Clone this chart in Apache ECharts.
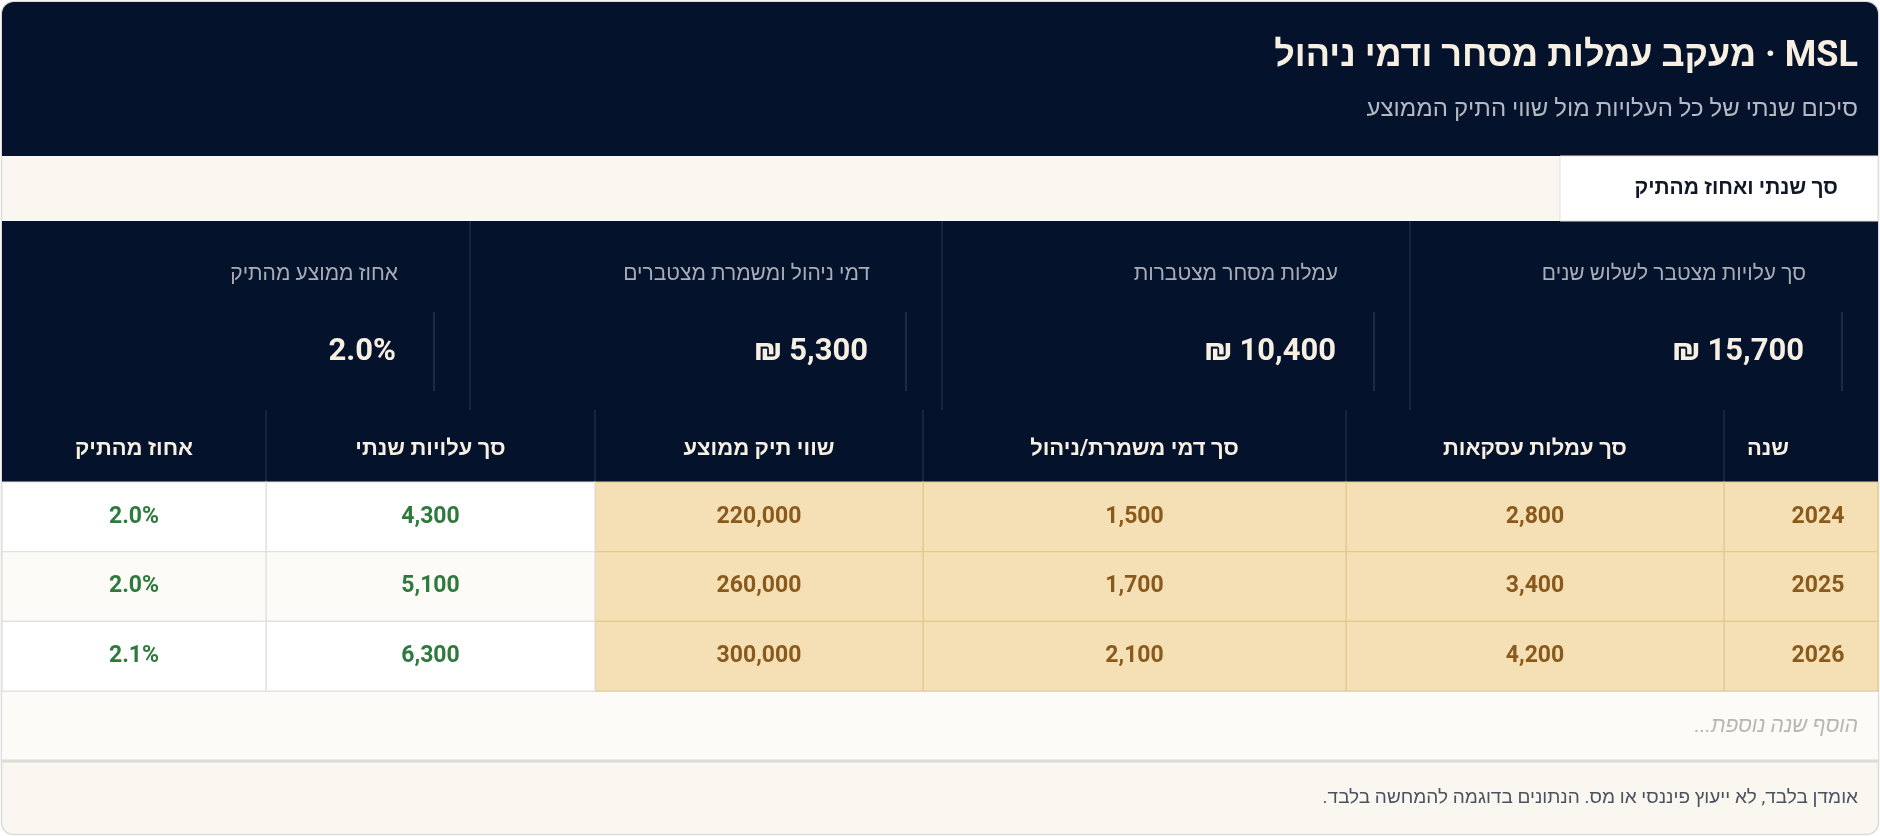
<!DOCTYPE html>
<html dir="rtl"><head><meta charset="utf-8">
<script src="https://cdn.jsdelivr.net/npm/echarts@6/dist/echarts.min.js"></script>
<style>html,body{margin:0;padding:0;background:#fff}#c{width:1880px;height:836px}</style>
</head><body><div id="c"></div>
<script>
const title = 'MSL · מעקב עמלות מסחר ודמי ניהול';
const subtitle = 'סיכום שנתי של כל העלויות מול שווי התיק הממוצע';
const tabLabel = 'סך שנתי ואחוז מהתיק';
const kpiLabels = ['סך עלויות מצטבר לשלוש שנים','עמלות מסחר מצטברות','דמי ניהול ומשמרת מצטברים','אחוז ממוצע מהתיק'];
const kpiValues = ['15,700 ₪','10,400 ₪','5,300 ₪','2.0%'];
const columns = ['שנה','סך עמלות עסקאות','סך דמי משמרת/ניהול','שווי תיק ממוצע','סך עלויות שנתי','אחוז מהתיק'];
const years = ['2024','2025','2026'];
const tradeFees = [2800,3400,4200];
const custodyFees = [1500,1700,2100];
const avgPortfolio = [220000,260000,300000];
const annualCost = [4300,5100,6300];
const pctOfPortfolio = [2.0,2.0,2.1];
const placeholder = 'הוסף שנה נוספת...';
const footer = 'אומדן בלבד, לא ייעוץ פיננסי או מס. הנתונים בדוגמה להמחשה בלבד.';

// layout (column edges, right to left)
const colEdges = [1878,1724,1346,923,595,266,2];
const F = "Roboto, 'Liberation Sans', 'DejaVu Sans', sans-serif";
const fmt = v => v.toLocaleString('en-US');
const cells = [];
years.forEach((y,r)=>{
  const vals=[y,fmt(tradeFees[r]),fmt(custodyFees[r]),fmt(avgPortfolio[r]),fmt(annualCost[r]),pctOfPortfolio[r].toFixed(1)+'%'];
  vals.forEach((t,c)=>cells.push([(colEdges[c]+colEdges[c+1])/2, r, c, t]));
});

const g=[];
g.push({type:'rect',shape:{x:1.5,y:1.5,width:1877,height:833,r:12},style:{fill:'#faf7f0',stroke:'#dcdcdc',lineWidth:1.5},z:0});
g.push({type:'rect',shape:{x:2,y:2,width:1876,height:154,r:[12,12,0,0]},style:{fill:'#04132b'},z:1});
g.push({type:'text',x:1858,y:57,style:{text:title,fill:'#f7efe1',font:'bold 36px '+F,align:'right',verticalAlign:'middle'},z:5});
g.push({type:'text',x:1858,y:110,style:{text:subtitle,fill:'#b4b8c4',font:'24px '+F,align:'right',verticalAlign:'middle'},z:5});
g.push({type:'rect',shape:{x:1560,y:156,width:318,height:65},style:{fill:'#ffffff',stroke:'#e4e1da',lineWidth:1},z:2});
g.push({type:'text',x:1838,y:189,style:{text:tabLabel,fill:'#101828',font:'bold 21px '+F,align:'right',verticalAlign:'middle'},z:5});
g.push({type:'rect',shape:{x:2,y:221,width:1876,height:262},style:{fill:'#04132b'},z:1});
const kpiRight=[1878,1410,942,470];
[1410,942,470].forEach(x=>g.push({type:'line',shape:{x1:x,y1:221,x2:x,y2:410},style:{stroke:'#1f2c45',lineWidth:1.5},z:3}));
kpiLabels.forEach((l,i)=>{
  const r=kpiRight[i];
  g.push({type:'text',x:r-72,y:275,style:{text:l,fill:'#a9adb8',font:'21px '+F,align:'right',verticalAlign:'middle'},z:5});
  g.push({type:'text',x:r-74,y:352,style:{text:kpiValues[i],fill:'#f7efe1',font:'bold 31px '+F,align:'right',verticalAlign:'middle'},z:5});
  g.push({type:'line',shape:{x1:r-36,y1:312,x2:r-36,y2:391},style:{stroke:'#26334c',lineWidth:1.5},z:3});
});
columns.forEach((c,i)=>{
  if(i<columns.length-1) g.push({type:'line',shape:{x1:colEdges[i+1],y1:410,x2:colEdges[i+1],y2:482},style:{stroke:'#1f2c45',lineWidth:1.5},z:3});
  const cx = i===0 ? colEdges[0]-110 : (colEdges[i]+colEdges[i+1])/2;
  g.push({type:'text',x:cx,y:449,style:{text:c,fill:'#f7efe1',font:'bold 22px '+F,align:'center',verticalAlign:'middle'},z:5});
});
g.push({type:'rect',shape:{x:2,y:691,width:1876,height:69},style:{fill:'#fcfbf7'},z:1});
g.push({type:'line',shape:{x1:2,y1:691,x2:1878,y2:691},style:{stroke:'#e2e0dc',lineWidth:1.5},z:3});
g.push({type:'text',x:1858,y:727,style:{text:placeholder,fill:'#b9b6ad',font:'italic 21px '+F,align:'right',verticalAlign:'middle'},z:5});
g.push({type:'line',shape:{x1:2,y1:761,x2:1878,y2:761},style:{stroke:'#dedcd8',lineWidth:3},z:3});
g.push({type:'text',x:1858,y:798,style:{text:footer,fill:'#4b5260',font:'19px '+F,align:'right',verticalAlign:'middle'},z:5});

const chart=echarts.init(document.getElementById('c'));
chart.setOption({
  animation:false,
  grid:{left:2,width:1876,top:482,height:209},
  xAxis:{type:'value',min:2,max:1878,show:false},
  yAxis:{type:'category',data:years,show:false,inverse:true},
  graphic:g,
  series:[{type:'custom',z:4,data:cells,encode:{x:0,y:1},
    renderItem:(params,api)=>{
      const c=api.value(2), r=api.value(1);
      const [,cy]=api.coord([0,r]);
      const h=api.size([0,1])[1];
      const x1=colEdges[c+1], x2=colEdges[c];
      const beige=c<4;
      const fill=beige?'#f5e0b5':(r%2===1?'#fcfbf7':'#ffffff');
      const stroke=beige?'#e2c98f':'#e2e0dc';
      return {type:'group',children:[
        {type:'rect',shape:{x:x1,y:cy-h/2,width:x2-x1,height:h},style:{fill:fill,stroke:stroke,lineWidth:1.2}},
        {type:'text',x:(c===0?x2-60:(x1+x2)/2),y:cy,style:{text:cells[params.dataIndex][3],fill:beige?'#8a5a1c':'#2e7a3c',font:'bold 23px '+F,align:'center',verticalAlign:'middle'}}
      ]};
    }}]
});
</script></body></html>
